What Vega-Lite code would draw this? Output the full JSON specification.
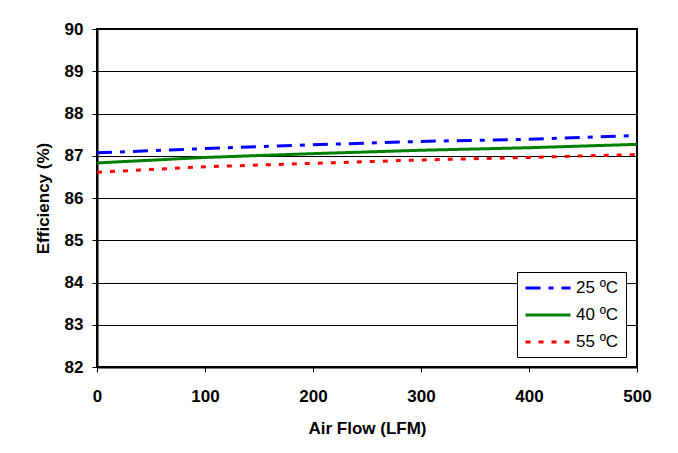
{
  "$schema": "https://vega.github.io/schema/vega-lite/v6.json",
  "width": 540,
  "height": 338,
  "autosize": {"type": "none"},
  "padding": {"left": 97, "top": 29, "right": 41, "bottom": 86},
  "background": "white",
  "data": {
    "values": [
      {"flow": 0, "eff": 87.07, "temp": "25 ºC"},
      {"flow": 100, "eff": 87.17, "temp": "25 ºC"},
      {"flow": 200, "eff": 87.26, "temp": "25 ºC"},
      {"flow": 300, "eff": 87.34, "temp": "25 ºC"},
      {"flow": 400, "eff": 87.39, "temp": "25 ºC"},
      {"flow": 500, "eff": 87.48, "temp": "25 ºC"},
      {"flow": 0, "eff": 86.83, "temp": "40 ºC"},
      {"flow": 100, "eff": 86.96, "temp": "40 ºC"},
      {"flow": 200, "eff": 87.05, "temp": "40 ºC"},
      {"flow": 300, "eff": 87.13, "temp": "40 ºC"},
      {"flow": 400, "eff": 87.19, "temp": "40 ºC"},
      {"flow": 500, "eff": 87.27, "temp": "40 ºC"},
      {"flow": 0, "eff": 86.61, "temp": "55 ºC"},
      {"flow": 100, "eff": 86.74, "temp": "55 ºC"},
      {"flow": 200, "eff": 86.82, "temp": "55 ºC"},
      {"flow": 300, "eff": 86.90, "temp": "55 ºC"},
      {"flow": 400, "eff": 86.96, "temp": "55 ºC"},
      {"flow": 500, "eff": 87.03, "temp": "55 ºC"}
    ]
  },
  "mark": {"type": "line", "strokeWidth": 3, "strokeCap": "butt", "clip": true},
  "encoding": {
    "x": {
      "field": "flow", "type": "quantitative",
      "scale": {"domain": [0, 500], "nice": false},
      "axis": {"values": [0, 100, 200, 300, 400, 500], "grid": false, "title": "Air Flow (LFM)", "labelPadding": 16, "titlePadding": 16, "labelFlush": false}
    },
    "y": {
      "field": "eff", "type": "quantitative",
      "scale": {"domain": [82, 90], "nice": false, "zero": false},
      "axis": {"values": [82, 83, 84, 85, 86, 87, 88, 89, 90], "grid": true, "title": "Efficiency (%)", "labelPadding": 9, "titlePadding": 12}
    },
    "color": {
      "field": "temp", "type": "nominal",
      "scale": {"domain": ["25 ºC", "40 ºC", "55 ºC"], "range": ["#0000FF", "#008000", "#FF0000"]},
      "legend": {
        "title": null, "orient": "none", "legendX": 420, "legendY": 243,
        "symbolType": "M-1,0H5", "symbolSize": 225, "symbolStrokeWidth": 3,
        "labelFont": "Liberation Sans", "labelFontSize": 17, "labelColor": "black",
        "labelOffset": 34, "padding": 7, "strokeColor": "black", "fillColor": "white",
        "rowPadding": 10
      }
    },
    "strokeDash": {
      "field": "temp", "type": "nominal",
      "scale": {"domain": ["25 ºC", "40 ºC", "55 ºC"], "range": [[15, 8, 5, 8], [1, 0], [5, 8]]},
      "legend": null
    }
  },
  "config": {
    "font": "Liberation Sans",
    "view": {"stroke": "black", "strokeWidth": 2},
    "axis": {
      "labelFont": "Liberation Sans", "labelFontSize": 17, "labelFontWeight": "bold", "labelColor": "black",
      "titleFont": "Liberation Sans", "titleFontSize": 17, "titleFontWeight": "bold", "titleColor": "black",
      "domainColor": "black", "domainWidth": 2, "tickColor": "black", "tickSize": 5, "tickWidth": 1,
      "gridColor": "black", "gridWidth": 1, "gridOpacity": 1
    }
  }
}
